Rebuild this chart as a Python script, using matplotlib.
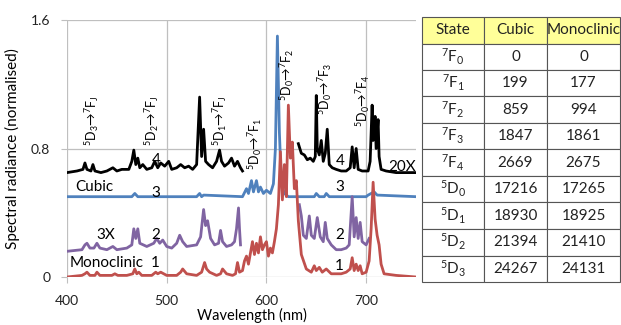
import matplotlib.pyplot as plt

plt.rcParams['font.family'] = ['Lato', 'DejaVu Sans']
plt.rcParams['mathtext.default'] = 'regular'

# spectrum 1 - monoclinic (red)
wl_mono = [400, 415, 418, 420, 423, 428, 430, 433, 445, 448, 451, 460, 466, 468, 470, 472, 475, 485, 489, 491,
           494, 497, 500, 510, 514, 516, 520, 530, 535, 538, 540, 543, 550, 554, 556, 560, 566, 569, 571, 573,
           576, 578, 580, 582, 584, 586, 588, 590, 592, 594, 596, 598, 600, 602, 604, 606, 608, 610, 612, 614,
           616, 618, 620, 622, 624, 626, 628, 630, 632, 635, 640, 645, 648, 650, 653, 656, 660, 665, 675, 680,
           684, 686, 688, 690, 692, 694, 696, 700, 703, 705, 707, 709, 711, 713, 715, 718, 730, 750]
rad_mono = [0.0, 0.01, 0.02, 0.03, 0.01, 0.01, 0.03, 0.01, 0.01, 0.02, 0.01, 0.01, 0.02, 0.05, 0.02, 0.03, 0.01, 0.01, 0.03, 0.02,
            0.03, 0.02, 0.01, 0.01, 0.03, 0.05, 0.02, 0.01, 0.03, 0.09, 0.05, 0.03, 0.01, 0.02, 0.05, 0.02, 0.01, 0.02, 0.09, 0.03,
            0.04, 0.1, 0.13, 0.08, 0.15, 0.22, 0.14, 0.21, 0.15, 0.25, 0.17, 0.2, 0.22, 0.13, 0.18, 0.15, 0.22, 0.3, 0.45, 0.78,
            0.48, 0.7, 0.5, 1.07, 0.74, 0.84, 0.55, 0.6, 0.35, 0.14, 0.05, 0.03, 0.07, 0.04, 0.06, 0.03, 0.05, 0.02, 0.02, 0.03,
            0.05, 0.12, 0.04, 0.08, 0.04, 0.07, 0.02, 0.03, 0.1, 0.3, 0.59, 0.36, 0.26, 0.2, 0.08, 0.02, 0.01, 0.0]

# spectrum 2 - monoclinic x3 (purple), two pieces
wl_mono3_a = [400, 415, 418, 420, 423, 427, 430, 433, 440, 446, 450, 460, 465, 467, 469, 471, 473, 480, 487, 490,
              493, 496, 500, 505, 510, 513, 516, 520, 530, 534, 537, 539, 541, 544, 548, 552, 554, 556, 560, 565,
              568, 570, 572, 573, 574]
rad_mono3_a = [0.16, 0.17, 0.2, 0.21, 0.18, 0.18, 0.21, 0.18, 0.17, 0.19, 0.17, 0.18, 0.2, 0.3, 0.24, 0.3, 0.21, 0.19, 0.21, 0.24,
               0.21, 0.23, 0.19, 0.18, 0.21, 0.26, 0.22, 0.19, 0.2, 0.25, 0.42, 0.32, 0.35, 0.24, 0.2, 0.21, 0.29, 0.22, 0.19, 0.2,
               0.22, 0.3, 0.43, 0.3, 0.2]
wl_mono3_b = [633, 635, 637, 640, 643, 645, 648, 651, 654, 657, 659, 661, 665, 670, 675, 680, 683, 686, 688, 690,
              692, 694, 696, 700, 703]
rad_mono3_b = [0.45, 0.38, 0.26, 0.24, 0.38, 0.26, 0.24, 0.37, 0.25, 0.22, 0.34, 0.24, 0.2, 0.17, 0.17, 0.18, 0.2, 0.5, 0.25, 0.37,
               0.24, 0.34, 0.22, 0.2, 0.24]

# spectrum 3 - cubic (blue)
wl_cubic = [400, 465, 468, 471, 530, 533, 535, 537, 576, 580, 582, 585, 587, 590, 592, 594, 597, 600, 604, 607,
            609, 611, 613, 615, 618, 622, 648, 650, 653, 658, 660, 663, 700, 702, 705, 708, 711, 750]
rad_cubic = [0.5, 0.5, 0.52, 0.5, 0.5, 0.52, 0.5, 0.51, 0.5, 0.55, 0.52, 0.6, 0.53, 0.6, 0.53, 0.56, 0.52, 0.54, 0.52, 0.58,
             0.8, 1.5, 0.9, 0.58, 0.52, 0.5, 0.5, 0.52, 0.5, 0.5, 0.52, 0.5, 0.5, 0.51, 0.52, 0.53, 0.51, 0.5]

# spectrum 4 - cubic x20 (black), two pieces
wl_cub20_a = [400, 410, 416, 418, 420, 424, 426, 428, 434, 440, 446, 450, 455, 462, 465, 467, 469, 471, 473, 476,
              480, 485, 488, 491, 494, 498, 502, 505, 510, 514, 518, 522, 526, 530, 533, 535, 537, 539, 542, 546,
              550, 553, 555, 558, 562, 565, 568, 571, 574, 576]
rad_cub20_a = [0.65, 0.66, 0.67, 0.71, 0.67, 0.66, 0.7, 0.66, 0.65, 0.66, 0.68, 0.66, 0.67, 0.67, 0.72, 0.79, 0.7, 0.74, 0.68, 0.7,
               0.67, 0.68, 0.72, 0.68, 0.71, 0.69, 0.72, 0.67, 0.68, 0.7, 0.68, 0.69, 0.67, 0.7, 1.12, 0.75, 0.92, 0.72, 0.7, 0.68,
               0.72, 0.79, 0.72, 0.69, 0.71, 0.74, 0.69, 0.72, 0.68, 0.66]
wl_cub20_b = [632, 635, 638, 641, 644, 647, 649, 650, 651, 653, 655, 657, 659, 661, 663, 666, 670, 675, 680, 684,
              686, 688, 690, 692, 696, 702, 704, 706, 707, 709, 710, 712, 713, 715, 720, 730, 750]
rad_cub20_b = [0.83, 0.77, 0.76, 0.73, 0.74, 0.72, 0.75, 1.13, 0.8, 0.76, 0.85, 0.72, 0.77, 0.92, 0.7, 0.68, 0.67, 0.66, 0.66, 0.68,
               0.81, 0.68, 0.8, 0.67, 0.66, 0.66, 0.72, 1.07, 0.85, 1.0, 0.8, 0.98, 0.75, 0.67, 0.66, 0.65, 0.65]

# energy level table
states = ['$^7$F$_0$', '$^7$F$_1$', '$^7$F$_2$', '$^7$F$_3$', '$^7$F$_4$',
          '$^5$D$_0$', '$^5$D$_1$', '$^5$D$_2$', '$^5$D$_3$']
cubic_lev = [0, 199, 859, 1847, 2669, 17216, 18930, 21394, 24267]
mono_lev = [0, 177, 994, 1861, 2675, 17265, 18925, 21410, 24131]

fig = plt.figure(figsize=(6.21, 3.25), dpi=100)
ax = fig.add_axes([67/621, 1-277/325, 349/621, 257/325])

lw = 2.0
ax.plot(wl_cub20_a, rad_cub20_a, color='black', lw=lw)
ax.plot(wl_cub20_b, rad_cub20_b, color='black', lw=lw)
ax.plot(wl_cubic, rad_cubic, color='#4F81BD', lw=lw)
ax.plot(wl_mono3_a, rad_mono3_a, color='#8064A2', lw=lw)
ax.plot(wl_mono3_b, rad_mono3_b, color='#8064A2', lw=lw)
ax.plot(wl_mono, rad_mono, color='#C0504D', lw=lw)

ax.set_xlim(400, 750)
ax.set_ylim(0, 1.6)
ax.set_xticks([400, 500, 600, 700])
ax.set_yticks([0, 0.8, 1.6])
ax.set_yticklabels(['0', '0.8', '1.6'])
ax.grid(True, color='#BFBFBF', lw=0.9)
ax.set_axisbelow(True)
for s in ax.spines.values():
    s.set_visible(False)
ax.tick_params(axis='both', length=4, color='#BFBFBF', labelsize=10, labelcolor='#222222')
ax.tick_params(axis='x', pad=9)
ax.tick_params(axis='y', pad=8)
ax.set_xlabel('Wavelength (nm)', fontsize=10.5, labelpad=2)
ax.xaxis.set_label_coords(0.53, -0.122)
ax.set_ylabel('Spectral radiance (normalised)', fontsize=11, labelpad=8)

# curve labels
ts = 11
ax.text(489, 0.73, '4', fontsize=ts, ha='center', va='center')
ax.text(674, 0.725, '4', fontsize=ts, ha='center', va='center')
ax.text(427, 0.5625, 'Cubic', fontsize=ts, ha='center', va='center')
ax.text(489, 0.525, '3', fontsize=ts, ha='center', va='center')
ax.text(674, 0.5625, '3', fontsize=ts, ha='center', va='center')
ax.text(439, 0.2625, '3X', fontsize=ts, ha='center', va='center')
ax.text(489, 0.2625, '2', fontsize=ts, ha='center', va='center')
ax.text(674, 0.2625, '2', fontsize=ts, ha='center', va='center')
ax.text(440, 0.0875, 'Monoclinic', fontsize=ts, ha='center', va='center')
ax.text(488, 0.0875, '1', fontsize=ts, ha='center', va='center')
ax.text(673, 0.069, '1', fontsize=ts, ha='center', va='center')
ax.text(736, 0.6875, '20X', fontsize=ts, ha='center', va='center')

# transition labels
tr = [(425, 0.975, '$^5$D$_3$→$^7$F$_J$'),
      (485, 0.975, '$^5$D$_2$→$^7$F$_J$'),
      (553, 0.975, '$^5$D$_1$→$^7$F$_J$'),
      (589, 0.83, '$^5$D$_0$→$^7$F$_1$'),
      (621, 1.256, '$^5$D$_0$→$^7$F$_2$'),
      (659, 1.17, '$^5$D$_0$→$^7$F$_3$'),
      (697, 1.1, '$^5$D$_0$→$^7$F$_4$')]
for x, y, s in tr:
    ax.text(x, y, s, rotation=90, fontsize=9, ha='center', va='center')

# table
tab_ax = fig.add_axes([422/621, 1-282/325, 198/621, 265/325])
tab_ax.axis('off')
rows = [[s, str(c), str(m)] for s, c, m in zip(states, cubic_lev, mono_lev)]
tb = tab_ax.table(cellText=rows, colLabels=['State', 'Cubic', 'Monoclinic'],
                  cellLoc='center', colWidths=[62, 63, 73], bbox=[0, 0, 1, 1])
tb.auto_set_font_size(False)
tb.set_fontsize(11)
for (r, c), cell in tb.get_celld().items():
    cell.set_edgecolor('#555555')
    cell.set_linewidth(0.8)
    cell.get_text().set_color('#222222')
    if r == 0:
        cell.set_facecolor('#FFFF99')

fig.savefig('out.png', dpi=100)
